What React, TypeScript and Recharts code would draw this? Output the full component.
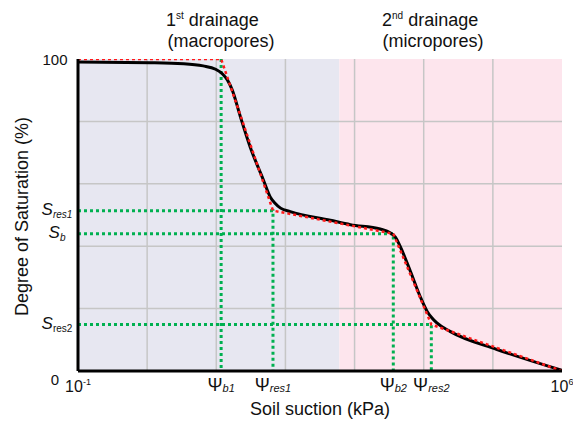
import React from 'react';
import { LineChart, Line, XAxis, YAxis, ReferenceArea, ReferenceLine } from 'recharts';

const FONT = '"Liberation Sans", Arial, Helvetica, sans-serif';

// x values are log10 of soil suction (kPa); y values are degree of saturation (%)
const psiB1 = 1.07;
const psiRes1 = 1.82;
const psiB2 = 3.56;
const psiRes2 = 4.11;
const sRes1 = 51.4;
const sB = 44.0;
const sRes2 = 14.9;

const curveLogSuction = [-1, 0.05, 0.53, 0.81, 0.99, 1.09, 1.16, 1.23, 1.35, 1.49, 1.68, 1.78, 1.85, 1.93, 2.07, 2.65, 2.94, 3.37, 3.52, 3.59, 3.66, 3.81, 3.95, 4.05, 4.12, 4.19, 4.38, 5.06, 6];
const curveSaturation = [99.0, 98.8, 98.5, 97.8, 96.7, 95.2, 93.3, 90.1, 81.4, 71.8, 61.3, 55.8, 53.8, 52.2, 51.1, 48.3, 46.9, 45.5, 44.2, 42.9, 39.9, 31.8, 23.8, 19.1, 17.0, 15.4, 12.7, 6.9, 0.2];

const bilinLogSuction = [-1, psiB1, psiRes1, psiB2, psiRes2, 6];
const bilinSaturation = [100, 100, sRes1, sB, sRes2, 0];

const guideS = [sRes1, sB, sRes2];
const guidePsi = [psiRes1, psiB2, psiRes2];

const decadeGrid = [0, 1, 2, 3, 4, 5];
const saturationGrid = [20, 40, 60, 80];
const regionSplit = 2.78;

const xTickValues = [-1, psiB1, psiRes1, psiB2, psiRes2, 6];
const xTickBase = ['10', 'Ψ', 'Ψ', 'Ψ', 'Ψ', '10'];
const xTickSup = ['-1', '', '', '', '', '6'];
const xTickSub = ['', 'b1', 'res1', 'b2', 'res2', ''];

const yTickValues = [0, sRes2, sB, sRes1, 100];
const yTickMain = ['0', 'S', 'S', 'S', '100'];
const yTickSub = ['', 'res2', 'b', 'res1', ''];

const curveData = curveLogSuction.map((x, i) => ({ x, y: curveSaturation[i] }));
const bilinData = bilinLogSuction.map((x, i) => ({ x, y: bilinSaturation[i] }));
const guideData = guideS.map((s, i) => [
  { x: -1, y: s },
  { x: guidePsi[i], y: s },
  { x: guidePsi[i], y: 0 },
]);
const psiB1Data = [
  { x: psiB1, y: 100 },
  { x: psiB1, y: 0 },
];

const GREEN = '#00b050';
const RED = '#ff1a1a';

const XTick = (props: any) => {
  const { x, y, payload } = props;
  const i = xTickValues.indexOf(payload.value);
  if (i < 0) return null;
  if (xTickSup[i]) {
    return (
      <text x={x} y={y + 21} textAnchor="middle" fontFamily={FONT} fontSize={16} fill="#111">
        <tspan>{xTickBase[i]}</tspan>
        <tspan dy={-7} fontSize={9}>{xTickSup[i]}</tspan>
      </text>
    );
  }
  return (
    <text x={x} y={y + 20} textAnchor="middle" fontFamily={FONT} fontSize={18} fill="#111">
      <tspan>{xTickBase[i]}</tspan>
      <tspan dy={1} fontSize={11} fontStyle="italic">{xTickSub[i]}</tspan>
    </text>
  );
};

const YTick = (props: any) => {
  const { x, y, payload } = props;
  const i = yTickValues.indexOf(payload.value);
  if (i < 0) return null;
  if (!yTickSub[i]) {
    const isZero = payload.value === 0;
    return (
      <text x={x - 23} y={y + (isZero ? 14 : 6)} textAnchor="middle" fontFamily={FONT} fontSize={15} fill="#111">
        {yTickMain[i]}
      </text>
    );
  }
  return (
    <text x={x - 21} y={y + 4} textAnchor="middle" fontFamily={FONT} fontSize={17} fill="#111">
      <tspan fontStyle="italic">{yTickMain[i]}</tspan>
      <tspan dy={3} fontSize={10} fontStyle={yTickSub[i] === 'res2' ? 'normal' : 'italic'}>{yTickSub[i]}</tspan>
    </text>
  );
};

export default function App() {
  return (
    <div style={{ position: 'relative', width: 573, height: 414 }}>
      <LineChart width={573} height={414} margin={{ top: 51, right: 19, bottom: 0, left: 0 }}>
        <XAxis
          dataKey="x"
          type="number"
          domain={[-1, 6]}
          ticks={xTickValues}
          interval={0}
          tick={<XTick />}
          tickLine={false}
          tickSize={0}
          tickMargin={0}
          height={51}
          axisLine={{ stroke: '#000', strokeWidth: 3 }}
          allowDataOverflow
        />
        <XAxis
          xAxisId="top"
          orientation="top"
          type="number"
          domain={[-1, 6]}
          tick={false}
          tickLine={false}
          height={0}
          axisLine={{ stroke: '#000', strokeWidth: 3 }}
        />
        <YAxis
          type="number"
          domain={[0, 100]}
          ticks={yTickValues}
          interval={0}
          tick={<YTick />}
          tickLine={false}
          tickSize={0}
          tickMargin={0}
          width={70}
          axisLine={{ stroke: '#000', strokeWidth: 3 }}
          allowDataOverflow
        />
        <YAxis
          yAxisId="right"
          orientation="right"
          type="number"
          domain={[0, 100]}
          tick={false}
          tickLine={false}
          width={0}
          axisLine={{ stroke: '#000', strokeWidth: 3 }}
        />
        <ReferenceArea x1={-1} x2={regionSplit} y1={0} y2={100} fill="#e7e7f1" fillOpacity={1} stroke="none" />
        <ReferenceArea x1={regionSplit} x2={6} y1={0} y2={100} fill="#fde5ed" fillOpacity={1} stroke="none" />
        {decadeGrid.map((d) => (
          <ReferenceLine key={'v' + d} x={d} stroke="#c6c6c6" strokeWidth={1.5} />
        ))}
        {saturationGrid.map((s) => (
          <ReferenceLine key={'h' + s} y={s} stroke="#c6c6c6" strokeWidth={1.5} />
        ))}
        {guideData.map((g, i) => (
          <Line
            key={'g' + i}
            data={g}
            dataKey="y"
            type="linear"
            stroke={GREEN}
            strokeWidth={3}
            strokeDasharray="3 3"
            dot={false}
            activeDot={false}
            isAnimationActive={false}
          />
        ))}
        <Line
          data={psiB1Data}
          dataKey="y"
          type="linear"
          stroke={GREEN}
          strokeWidth={3}
          strokeDasharray="3 3"
          dot={false}
          activeDot={false}
          isAnimationActive={false}
        />
        <Line
          data={curveData}
          dataKey="y"
          type="monotone"
          stroke="#000"
          strokeWidth={3}
          dot={false}
          activeDot={false}
          isAnimationActive={false}
        />
        <Line
          data={bilinData}
          dataKey="y"
          type="linear"
          stroke={RED}
          strokeWidth={2.5}
          strokeDasharray="3 3"
          dot={false}
          activeDot={false}
          isAnimationActive={false}
        />
      </LineChart>
      <svg
        width={573}
        height={414}
        style={{ position: 'absolute', left: 0, top: 0, pointerEvents: 'none' }}
      >
        <text x={158} y={18} fontFamily={FONT} fontSize={18} fill="#111">
          <tspan>1</tspan>
          <tspan dy={-7} fontSize={10}>st</tspan>
          <tspan dy={7}> drainage</tspan>
        </text>
        <text x={213} y={39} textAnchor="middle" fontFamily={FONT} fontSize={18} fill="#111">
          (macropores)
        </text>
        <text x={374} y={18} fontFamily={FONT} fontSize={18} fill="#111">
          <tspan>2</tspan>
          <tspan dy={-7} fontSize={10}>nd</tspan>
          <tspan dy={7}> drainage</tspan>
        </text>
        <text x={425} y={39} textAnchor="middle" fontFamily={FONT} fontSize={18} fill="#111">
          (micropores)
        </text>
        <text x={312} y={407} textAnchor="middle" fontFamily={FONT} fontSize={18} fill="#111">
          Soil suction (kPa)
        </text>
        <text
          transform="translate(20,208.5) rotate(-90)"
          textAnchor="middle"
          fontFamily={FONT}
          fontSize={18}
          fill="#111"
        >
          Degree of Saturation (%)
        </text>
      </svg>
    </div>
  );
}
